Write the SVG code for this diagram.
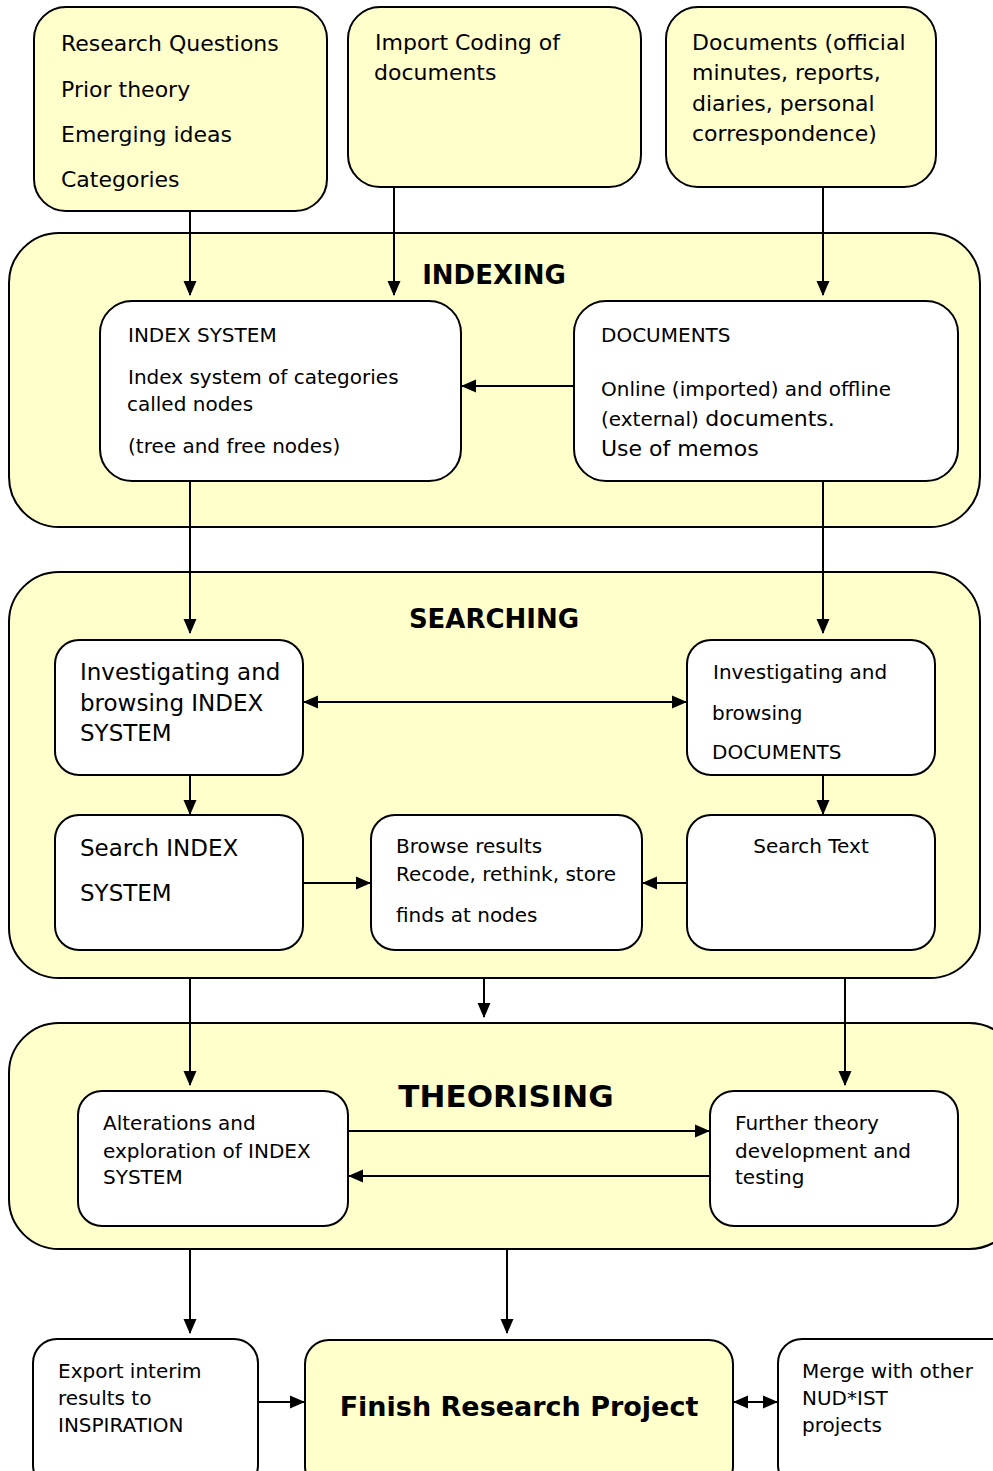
<svg xmlns="http://www.w3.org/2000/svg" width="993" height="1471" viewBox="0 0 993 1471">
<defs>
<marker id="ah" markerUnits="userSpaceOnUse" markerWidth="16" markerHeight="14" refX="14" refY="7" orient="auto-start-reverse" viewBox="0 0 16 14"><path d="M0,0.5 L15,7 L0,13.5 z" fill="#000"/></marker>
<style>
.y{fill:#FFFFCC;stroke:#000;stroke-width:2}
.w{fill:#FFFFFF;stroke:#000;stroke-width:2}
.t{font-family:"DejaVu Sans",Verdana,sans-serif;font-size:22px;fill:#000}
.s{font-size:20px}
.b{font-size:23px}
.h{font-family:"DejaVu Sans",Verdana,sans-serif;font-weight:bold;fill:#000;text-anchor:middle}
.c line{stroke:#000;stroke-width:2;fill:none}
</style>
</defs>
<rect width="993" height="1471" fill="#fff"/>

<g id="panel-indexing"><rect class="y" x="9" y="233" width="971" height="294" rx="50"/><text class="h" x="494" y="284" font-size="26">INDEXING</text></g>
<g id="panel-searching"><rect class="y" x="9" y="572" width="971" height="406" rx="50"/><text class="h" x="494" y="628" font-size="26">SEARCHING</text></g>
<g id="panel-theorising"><rect class="y" x="9" y="1023" width="1010" height="226" rx="50"/><text class="h" x="506" y="1107" font-size="31">THEORISING</text></g>

<g id="n-research"><rect class="y" x="34" y="7" width="293" height="204" rx="32"/>
<text class="t" x="61" y="51">Research Questions</text><text class="t" x="61" y="97">Prior theory</text><text class="t" x="61" y="142">Emerging ideas</text><text class="t" x="61" y="187">Categories</text></g>
<g id="n-import"><rect class="y" x="348" y="7" width="293" height="180" rx="32"/>
<text class="t" x="375" y="50">Import Coding of</text><text class="t" x="374" y="80">documents</text></g>
<g id="n-documents-src"><rect class="y" x="666" y="7" width="270" height="180" rx="32"/>
<text class="t" x="692" y="50">Documents (official</text><text class="t" x="692" y="80">minutes, reports,</text><text class="t" x="692" y="111">diaries, personal</text><text class="t" x="692" y="141">correspondence)</text></g>

<g id="n-index-system"><rect class="w" x="100" y="301" width="361" height="180" rx="32"/>
<text class="t s" x="128" y="342">INDEX SYSTEM</text><text class="t s" x="128" y="384">Index system of categories</text><text class="t s" x="127" y="411">called nodes</text><text class="t s" x="128" y="453">(tree and free nodes)</text></g>
<g id="n-documents"><rect class="w" x="574" y="301" width="384" height="180" rx="32"/>
<text class="t s" x="601" y="342">DOCUMENTS</text><text class="t s" x="601" y="396">Online (imported) and offline</text><text class="t s" x="601" y="426">(external) <tspan font-size="22">documents.</tspan></text><text class="t" x="601" y="456">Use of memos</text></g>

<g id="n-inv-index"><rect class="w" x="55" y="640" width="248" height="135" rx="24"/>
<text class="t b" x="80" y="680">Investigating and</text><text class="t b" x="80" y="711">browsing INDEX</text><text class="t b" x="80" y="741">SYSTEM</text></g>
<g id="n-inv-docs"><rect class="w" x="687" y="640" width="248" height="135" rx="24"/>
<text class="t s" x="713" y="679">Investigating and</text><text class="t s" x="712" y="720">browsing</text><text class="t s" x="712" y="759">DOCUMENTS</text></g>
<g id="n-search-index"><rect class="w" x="55" y="815" width="248" height="135" rx="24"/>
<text class="t b" x="80" y="856">Search INDEX</text><text class="t b" x="80" y="901">SYSTEM</text></g>
<g id="n-browse"><rect class="w" x="371" y="815" width="271" height="135" rx="24"/>
<text class="t s" x="396" y="853">Browse results</text><text class="t s" x="396" y="881">Recode, rethink, store</text><text class="t s" x="396" y="922">finds at nodes</text></g>
<g id="n-search-text"><rect class="w" x="687" y="815" width="248" height="135" rx="24"/>
<text class="t s" x="811" y="853" text-anchor="middle">Search Text</text></g>

<g id="n-alterations"><rect class="w" x="78" y="1091" width="270" height="135" rx="24"/>
<text class="t s" x="103" y="1130">Alterations and</text><text class="t s" x="103" y="1158">exploration of INDEX</text><text class="t s" x="103" y="1184">SYSTEM</text></g>
<g id="n-further"><rect class="w" x="710" y="1091" width="248" height="135" rx="24"/>
<text class="t s" x="735" y="1130">Further theory</text><text class="t s" x="735" y="1158">development and</text><text class="t s" x="735" y="1184">testing</text></g>

<g id="n-export"><rect class="w" x="33" y="1339" width="225" height="150" rx="24"/>
<text class="t s" x="58" y="1378">Export interim</text><text class="t s" x="58" y="1405">results to</text><text class="t s" x="58" y="1432">INSPIRATION</text></g>
<g id="n-finish"><rect class="y" x="305" y="1340" width="428" height="150" rx="24"/>
<text class="h" x="519" y="1416" font-size="27">Finish Research Project</text></g>
<g id="n-merge"><rect class="w" x="778" y="1339" width="240" height="150" rx="24"/>
<text class="t s" x="802" y="1378">Merge with other</text><text class="t s" x="802" y="1405">NUD*IST</text><text class="t s" x="802" y="1432">projects</text></g>

<g id="connectors" class="c">
<line x1="190" y1="211" x2="190" y2="295" marker-end="url(#ah)"/>
<line x1="394" y1="187" x2="394" y2="295" marker-end="url(#ah)"/>
<line x1="823" y1="187" x2="823" y2="295" marker-end="url(#ah)"/>
<line x1="574" y1="386" x2="462" y2="386" marker-end="url(#ah)"/>
<line x1="190" y1="481" x2="190" y2="633" marker-end="url(#ah)"/>
<line x1="823" y1="481" x2="823" y2="633" marker-end="url(#ah)"/>
<line x1="304" y1="702" x2="686" y2="702" marker-start="url(#ah)" marker-end="url(#ah)"/>
<line x1="190" y1="775" x2="190" y2="814" marker-end="url(#ah)"/>
<line x1="823" y1="775" x2="823" y2="814" marker-end="url(#ah)"/>
<line x1="303" y1="883" x2="370" y2="883" marker-end="url(#ah)"/>
<line x1="687" y1="883" x2="643" y2="883" marker-end="url(#ah)"/>
<line x1="190" y1="978" x2="190" y2="1085" marker-end="url(#ah)"/>
<line x1="484" y1="978" x2="484" y2="1017" marker-end="url(#ah)"/>
<line x1="845" y1="978" x2="845" y2="1085" marker-end="url(#ah)"/>
<line x1="348" y1="1131" x2="709" y2="1131" marker-end="url(#ah)"/>
<line x1="710" y1="1176" x2="349" y2="1176" marker-end="url(#ah)"/>
<line x1="190" y1="1249" x2="190" y2="1333" marker-end="url(#ah)"/>
<line x1="507" y1="1249" x2="507" y2="1333" marker-end="url(#ah)"/>
<line x1="258" y1="1402" x2="304" y2="1402" marker-end="url(#ah)"/>
<line x1="734" y1="1402" x2="777" y2="1402" marker-start="url(#ah)" marker-end="url(#ah)"/>
</g>
</svg>
